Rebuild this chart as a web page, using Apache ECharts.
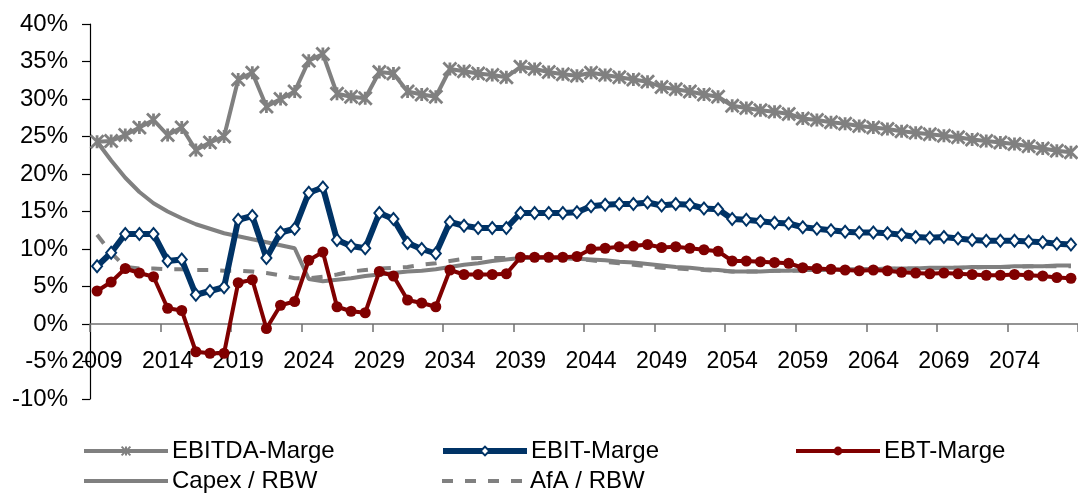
<!DOCTYPE html>
<html>
<head>
<meta charset="utf-8">
<script src="https://cdn.jsdelivr.net/npm/echarts@6/dist/echarts.min.js"></script>
<style>html,body{margin:0;padding:0;background:#fff}#c{width:1078px;height:503px}</style>
</head>
<body>
<div id="c"></div>
<script>
var years = ['2009','2010','2011','2012','2013','2014','2015','2016','2017','2018',
'2019','2020','2021','2022','2023','2024','2025','2026','2027','2028',
'2029','2030','2031','2032','2033','2034','2035','2036','2037','2038',
'2039','2040','2041','2042','2043','2044','2045','2046','2047','2048',
'2049','2050','2051','2052','2053','2054','2055','2056','2057','2058',
'2059','2060','2061','2062','2063','2064','2065','2066','2067','2068',
'2069','2070','2071','2072','2073','2074','2075','2076','2077','2078'];

var ebitdaMarge = [24.3,24.4,25.2,26.2,27.2,25.2,26.2,23.2,24.2,25.0,
32.6,33.5,29.0,30.0,31.0,35.1,36.0,30.7,30.3,30.1,
33.6,33.4,31.0,30.6,30.3,34.0,33.7,33.4,33.2,32.9,
34.3,34.0,33.6,33.3,33.1,33.5,33.2,32.9,32.6,32.3,
31.6,31.3,31.0,30.6,30.3,29.1,28.8,28.5,28.3,28.0,
27.4,27.2,26.9,26.7,26.4,26.2,26.0,25.7,25.5,25.3,
25.1,24.9,24.6,24.4,24.2,24.0,23.7,23.4,23.1,22.9];

var ebitMarge = [7.7,9.5,12.0,12.0,12.0,8.4,8.6,3.9,4.4,4.9,
13.9,14.4,8.8,12.2,12.7,17.5,18.2,11.2,10.4,10.1,
14.8,14.0,10.8,10.0,9.4,13.6,13.1,12.8,12.8,12.8,
14.8,14.8,14.8,14.8,14.9,15.7,15.9,16.0,16.0,16.2,
15.8,16.0,15.9,15.4,15.3,14.0,13.9,13.7,13.5,13.4,
12.9,12.7,12.5,12.3,12.2,12.2,12.1,11.9,11.6,11.5,
11.6,11.4,11.2,11.1,11.1,11.1,11.0,10.9,10.7,10.6];

var ebtMarge = [4.4,5.6,7.4,6.8,6.3,2.1,1.8,-3.7,-3.9,-3.9,
5.5,5.9,-0.6,2.5,3.0,8.5,9.6,2.3,1.7,1.5,
7.0,6.4,3.2,2.8,2.3,7.2,6.6,6.6,6.6,6.7,
8.9,8.9,8.9,8.9,9.0,10.0,10.1,10.3,10.4,10.6,
10.2,10.3,10.1,9.9,9.7,8.4,8.4,8.3,8.2,8.1,
7.5,7.4,7.3,7.2,7.1,7.2,7.1,6.9,6.8,6.7,
6.8,6.7,6.6,6.5,6.5,6.6,6.5,6.4,6.2,6.1];

var capexRbw = [24.3,21.8,19.5,17.6,16.1,15.0,14.1,13.3,12.7,12.1,
11.7,11.3,10.9,10.5,10.1,6.0,5.7,5.9,6.1,6.4,
6.6,6.8,7.0,7.1,7.3,7.6,7.9,8.1,8.4,8.6,
8.8,8.8,8.8,8.8,8.7,8.6,8.5,8.3,8.2,8.0,
7.8,7.6,7.5,7.3,7.2,7.0,7.0,7.0,7.1,7.1,
7.2,7.2,7.2,7.3,7.3,7.3,7.4,7.4,7.4,7.5,
7.5,7.5,7.6,7.6,7.6,7.7,7.7,7.7,7.8,7.8];

var afaRbw = [11.9,9.5,7.6,7.4,7.4,7.3,7.3,7.2,7.2,7.1,
7.1,7.0,6.8,6.5,6.1,6.1,6.3,6.6,7.0,7.2,
7.4,7.5,7.6,7.9,8.1,8.4,8.7,8.8,8.8,8.8,
8.9,8.9,8.9,8.8,8.7,8.5,8.3,8.1,7.9,7.7,
7.5,7.4,7.3,7.2,7.1,7.0,7.0,7.0,7.1,7.1,
7.1,7.2,7.2,7.2,7.3,7.3,7.3,7.4,7.4,7.4,
7.5,7.5,7.5,7.6,7.6,7.6,7.7,7.7,7.7,7.7];

var seriesNames = ['EBITDA-Marge','EBIT-Marge','EBT-Marge','Capex / RBW','AfA / RBW'];

var GRAY = '#808080', NAVY = '#003366', RED = '#800000';
var FONT = 'Liberation Sans, Arial, sans-serif';
var starPath = 'path://M0,0L10,10M10,0L0,10M5,0L5,10';

function legendFor(name, left, top, lw, hideSymbol) {
  var item = { name: name };
  if (hideSymbol) item.itemStyle = { opacity: 0 };
  return {
    data: [item], left: left, top: top, orient: 'horizontal',
    itemWidth: 84, itemHeight: 11, itemGap: 0, padding: 0,
    lineStyle: { width: lw },
    textStyle: { fontSize: 24, color: '#000', fontFamily: FONT, padding: [0, 0, 0, -1] }
  };
}

var chart = echarts.init(document.getElementById('c'), null, { renderer: 'canvas' });
chart.setOption({
  animation: false,
  backgroundColor: '#fff',
  textStyle: { fontFamily: FONT },
  grid: { left: 90, top: 24, bottom: 104, right: -11.6, containLabel: false },
  legend: [
    legendFor(seriesNames[0], 82, 439, 4, false),
    legendFor(seriesNames[1], 440, 439, 6, false),
    legendFor(seriesNames[2], 794, 439, 4, false),
    legendFor(seriesNames[3], 82, 469, 4, true),
    legendFor(seriesNames[4], 440, 469, 4, true)
  ],
  xAxis: {
    type: 'category', data: years, boundaryGap: true, position: 'bottom',
    offset: -75,
    axisLine: { onZero: false, lineStyle: { color: '#707070', width: 1.5 } },
    axisTick: { show: true, interval: 4, length: 8, lineStyle: { color: '#707070', width: 1.5 } },
    axisLabel: { interval: 4, fontSize: 23, color: '#000', margin: 26, fontFamily: FONT },
    splitLine: { show: false }
  },
  yAxis: {
    type: 'value', min: -10, max: 40, interval: 5,
    axisLine: { show: true, lineStyle: { color: '#000', width: 1.2 } },
    axisTick: { show: true, length: 8, lineStyle: { color: '#000', width: 1.2 } },
    axisLabel: { formatter: '{value}%', fontSize: 24, color: '#000', margin: 22, fontFamily: FONT },
    splitLine: { show: false }
  },
  series: [
    {
      name: seriesNames[0], type: 'line', data: ebitdaMarge, z: 2,
      symbol: starPath, symbolSize: 13, showAllSymbol: true,
      lineStyle: { color: GRAY, width: 4 },
      itemStyle: { color: GRAY, borderColor: GRAY, borderWidth: 2.8 }
    },
    {
      name: seriesNames[3], type: 'line', data: capexRbw, z: 3,
      symbol: 'none', showSymbol: false,
      lineStyle: { color: GRAY, width: 4 },
      itemStyle: { color: GRAY }
    },
    {
      name: seriesNames[4], type: 'line', data: afaRbw, z: 3,
      symbol: 'none', showSymbol: false,
      lineStyle: { color: GRAY, width: 4, type: [11, 12] },
      itemStyle: { color: GRAY }
    },
    {
      name: seriesNames[1], type: 'line', data: ebitMarge, z: 4,
      symbol: 'diamond', symbolSize: [10, 12], showAllSymbol: true,
      lineStyle: { color: NAVY, width: 6 },
      itemStyle: { color: '#fff', borderColor: NAVY, borderWidth: 2 }
    },
    {
      name: seriesNames[2], type: 'line', data: ebtMarge, z: 5,
      symbol: 'circle', symbolSize: 11, showAllSymbol: true,
      lineStyle: { color: RED, width: 4 },
      itemStyle: { color: RED, borderColor: RED, borderWidth: 0 }
    }
  ]
});
</script>
</body>
</html>
